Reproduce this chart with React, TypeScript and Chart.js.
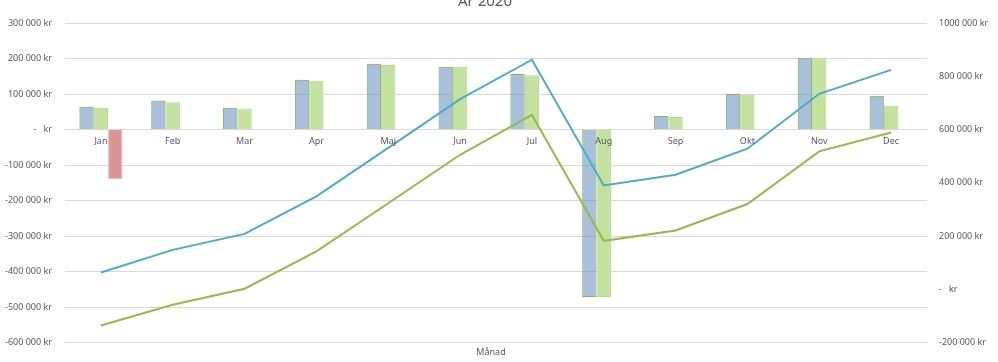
import React, { useEffect, useRef } from "react";
import { Chart, registerables } from "chart.js";

Chart.register(...registerables);

const months = ["Jan", "Feb", "Mar", "Apr", "Maj", "Jun", "Jul", "Aug", "Sep", "Okt", "Nov", "Dec"];
const utfall = [64000, 82000, 61000, 140000, 185000, 177000, 156000, -472000, 38000, 100000, 202000, 95000];
const budget = [61000, 77000, 59000, 137000, 182000, 177000, 153000, -472000, 35000, 98000, 201000, 67000];
const avvikelse = [-140000, null, null, null, null, null, null, null, null, null, null, null];
const ackUtfall = [63000, 148000, 208000, 349000, 531000, 714000, 862000, 390000, 430000, 528000, 734000, 824000];
const ackBudget = [-136000, -58000, 2000, 142000, 323000, 505000, 655000, 182000, 221000, 320000, 518000, 589000];

const leftMin = -600000;
const leftMax = 300000;
const leftStep = 100000;
const rightMin = -200000;
const rightMax = 1000000;
const rightStep = 200000;

const titleText = "År 2020";
const xTitle = "Månad";

const TEXT = "#595959";
const FONT = '"Noto Sans"';

function kr(v: number): string {
  if (v === 0) return "-   kr";
  const sign = v < 0 ? "-" : "";
  const a = Math.abs(v);
  const th = Math.floor(a / 1000);
  const rest = String(Math.round(a % 1000)).padStart(3, "0");
  return th > 0 ? `${sign}${th} ${rest} kr` : `${sign}${a} kr`;
}

const textPlugin = {
  id: "texts",
  afterDraw(chart: any) {
    const ctx = chart.ctx;
    ctx.save();
    ctx.fillStyle = TEXT;
    ctx.textAlign = "center";
    ctx.textBaseline = "alphabetic";
    ctx.font = `15px ${FONT}`;
    ctx.fillText(titleText, 485, 5.5);
    ctx.font = `9px ${FONT}`;
    ctx.textBaseline = "middle";
    ctx.fillText(xTitle, 491, 352.5);
    ctx.restore();
  },
};

export default function App() {
  const ref = useRef<HTMLCanvasElement | null>(null);
  useEffect(() => {
    if (!ref.current) return;
    const chart = new Chart(ref.current, {
      type: "bar",
      data: {
        labels: months,
        datasets: [
          {
            type: "line",
            label: "Ack. utfall",
            data: ackUtfall,
            yAxisID: "y1",
            borderColor: "#4BACC6",
            backgroundColor: "#4BACC6",
            borderWidth: 2,
            pointRadius: 0,
            tension: 0,
            order: 0,
          } as any,
          {
            type: "line",
            label: "Ack. budget",
            data: ackBudget,
            yAxisID: "y1",
            borderColor: "#92BB48",
            backgroundColor: "#92BB48",
            borderWidth: 2,
            pointRadius: 0,
            tension: 0,
            order: 0,
          } as any,
          {
            label: "Utfall",
            data: utfall,
            yAxisID: "y",
            backgroundColor: "rgba(79,129,189,0.5)",
            borderColor: "#8FB653",
            borderWidth: 1,
            order: 1,
          },
          {
            label: "Budget",
            data: budget,
            yAxisID: "y",
            backgroundColor: "#C3E2A0",
            borderColor: "#B3D98A",
            borderWidth: 1,
            order: 1,
          },
          {
            label: "Avvikelse",
            data: avvikelse,
            yAxisID: "y",
            backgroundColor: "#D99694",
            borderColor: "#E6B8B7",
            borderWidth: 1,
            order: 1,
          },
        ],
      },
      options: {
        animation: false,
        responsive: true,
        maintainAspectRatio: false,
        datasets: { bar: { categoryPercentage: 0.6, barPercentage: 1 } },
        layout: { padding: { top: 23, bottom: 19.5, left: 0, right: 0 } },
        plugins: {
          legend: { display: false },
          title: { display: false },
          tooltip: { enabled: false },
        },
        scales: {
          x: {
            position: { y: 0 } as any,
            grid: { display: false, drawTicks: false },
            border: { display: false },
            ticks: { z: 1, color: TEXT, font: { family: "Noto Sans", size: 9 }, padding: 7, maxRotation: 0 },
          },
          y: {
            position: "left",
            min: leftMin,
            max: leftMax,
            afterFit: (s: any) => {
              s.width = 65;
            },
            grid: { color: "#D9D9D9", lineWidth: 1, drawTicks: false },
            border: { display: false },
            ticks: {
              stepSize: leftStep,
              color: TEXT,
              font: { family: "Noto Sans", size: 9 },
              padding: 13,
              callback: (v: any) => kr(Number(v)),
            },
          },
          y1: {
            position: "right",
            min: rightMin,
            max: rightMax,
            afterFit: (s: any) => {
              s.width = 71;
            },
            grid: { display: false, drawTicks: false },
            border: { display: false },
            ticks: {
              stepSize: rightStep,
              color: TEXT,
              font: { family: "Noto Sans", size: 9 },
              padding: 12,
              callback: (v: any) => kr(Number(v)),
            },
          },
        },
      },
      plugins: [textPlugin],
    });
    return () => chart.destroy();
  }, []);

  return (
    <div style={{ position: "absolute", left: 0, top: 0, width: 998, height: 362 }}>
      <canvas ref={ref} />
    </div>
  );
}
